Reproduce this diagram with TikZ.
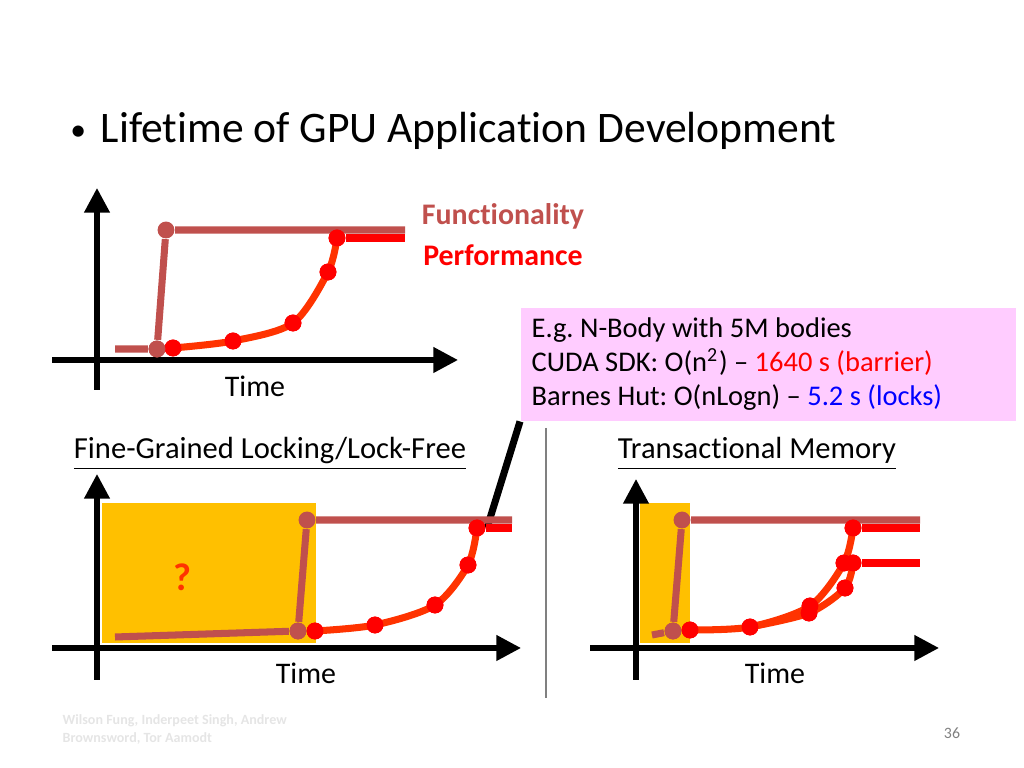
\documentclass[tikz,border=0pt]{standalone}
\usepackage{fontspec}
\setmainfont[RawFeature=-liga]{Carlito}
\usetikzlibrary{arrows.meta}
\definecolor{func}{HTML}{C0504D}
\definecolor{perf}{HTML}{FF3300}
\definecolor{gold}{HTML}{FFC000}
\definecolor{pinkbox}{HTML}{FFCCFF}
\frenchspacing
\begin{document}
\begin{tikzpicture}[
    x=0.01cm, y=-0.01cm,
    axis/.style={line width=1.5pt, -{Triangle[width=7pt,length=7pt]}},
    funcline/.style={line width=2pt, func},
    perfline/.style={line width=2pt, perf},
    redline/.style={line width=2pt, red},
    fdot/.style={circle, fill=func, inner sep=0pt, minimum size=4.8pt},
    pdot/.style={circle, fill=red, inner sep=0pt, minimum size=4.8pt},
    lbl/.style={font=\fontsize{8.5}{10}\selectfont},
    head/.style={font=\fontsize{8.7}{10}\selectfont, inner sep=0pt}
]
\useasboundingbox (0,0) rectangle (1024,768);

% Title
\node[anchor=base west, font=\fontsize{12.4}{15}\selectfont] (bullet) at (58,141) {\fontsize{9}{10}\selectfont\textbullet};
\node[anchor=base west, font=\fontsize{12.4}{15}\selectfont, inner sep=0pt] (title) at (100,143) {Lifetime of GPU Application Development};

% First graph
\coordinate (o1y) at (97,390);  \coordinate (e1y) at (97,188);
\coordinate (o1x) at (52,360);  \coordinate (e1x) at (458,360);
\draw[axis] (o1y) -- (e1y);
\draw[axis] (o1x) -- (e1x);
\node[fdot] (f1a) at (157,349) {};
\node[fdot] (f1b) at (166,230) {};
\coordinate (f1s) at (115,349); \coordinate (f1e) at (405,230);
\draw[funcline] (f1s) -- (f1a) -- (f1b) -- (f1e);
\node[pdot] (p1a) at (173,348) {};
\node[pdot] (p1b) at (233,341) {};
\node[pdot] (p1c) at (293,323) {};
\node[pdot] (p1d) at (328,272) {};
\node[pdot] (p1e) at (337,238) {};
\coordinate (p1f) at (405,238);
\draw[perfline] plot[smooth, tension=0.5] coordinates {(p1a) (p1b) (p1c) (p1d) (p1e)};
\draw[redline] (p1e) -- (p1f);
\foreach \n in {p1a,p1b,p1c,p1d,p1e} \node[pdot] at (\n) {};
\node[fdot] at (f1a) {};
\node[lbl] (time1) at (255,386) {Time};
\node[lbl, font=\fontsize{8.5}{10}\bfseries, text=func] (flab) at (503,216) {Functionality};
\node[lbl, font=\fontsize{8.5}{10}\bfseries, text=red] (plab) at (503,255) {Performance};

% Callout
\node[fill=pinkbox, anchor=north west, inner sep=0pt,
      minimum width=4.95cm, minimum height=1.13cm] (note) at (520,307) {};
\node[anchor=west, align=left, inner sep=0pt, font=\fontsize{8.1}{9.7}\selectfont] (notetext) at (531,364)
  {E.g. N-Body with 5M bodies\\
   CUDA SDK: O(n\textsuperscript{2}) -- \textcolor{red}{1640 s (barrier)}\\
   Barnes Hut: O(nLogn) -- \textcolor{blue}{5.2 s (locks)}};
\coordinate (tip) at (487,528);
\draw[line width=2pt] (note.south west) -- (tip);

% Separator
\coordinate (s1) at (546,428); \coordinate (s2) at (546,698);
\draw[gray, line width=0.6pt] (s1) -- (s2);

% Second graph
\node[head] (h2) at (270,454) {\underline{Fine-Grained Locking/Lock-Free}};
\fill[gold] (102,503) rectangle (316,643);
\node[font=\fontsize{11}{13}\bfseries\selectfont, text=perf] (q) at (182,577) {?};
\coordinate (o2y) at (97,680);  \coordinate (e2y) at (97,474);
\coordinate (o2x) at (52,648);  \coordinate (e2x) at (521,648);
\draw[axis] (o2y) -- (e2y);
\draw[axis] (o2x) -- (e2x);
\node[fdot] (f2a) at (298,631) {};
\node[fdot] (f2b) at (307,520) {};
\coordinate (f2s) at (115,637); \coordinate (f2e) at (512,520);
\draw[funcline] (f2s) -- (f2a) -- (f2b) -- (f2e);
\node[pdot] (p2a) at (315,631) {};
\node[pdot] (p2b) at (375,625) {};
\node[pdot] (p2c) at (435,605) {};
\node[pdot] (p2d) at (468,565) {};
\node[pdot] (p2e) at (477,528) {};
\coordinate (p2f) at (512,528);
\draw[perfline] plot[smooth, tension=0.5] coordinates {(p2a) (p2b) (p2c) (p2d) (p2e)};
\draw[redline] (p2e) -- (p2f);
\foreach \n in {p2a,p2b,p2c,p2d,p2e} \node[pdot] at (\n) {};
\node[fdot] at (f2a) {};
\node[lbl] (time2) at (306,673) {Time};

% Third graph
\node[head] (h3) at (757,454) {\underline{Transactional Memory}};
\fill[gold] (640,503) rectangle (690,643);
\coordinate (o3y) at (636,680);  \coordinate (e3y) at (636,479);
\coordinate (o3x) at (590,648);  \coordinate (e3x) at (939,648);
\draw[axis] (o3y) -- (e3y);
\draw[axis] (o3x) -- (e3x);
\node[fdot] (f3a) at (673,631) {};
\node[fdot] (f3b) at (682,520) {};
\coordinate (f3s) at (652,635); \coordinate (f3e) at (920,520);
\draw[funcline] (f3s) -- (f3a) -- (f3b) -- (f3e);
\node[pdot] (p3a) at (690,630) {};
\node[pdot] (p3b) at (750,627) {};
\node[pdot] (p3c) at (810,606) {};
\node[pdot] (p3d) at (844,563) {};
\node[pdot] (p3e) at (853,528) {};
\coordinate (p3f) at (920,528);
\node[pdot] (q3c) at (809,613) {};
\node[pdot] (q3d) at (845,588) {};
\node[pdot] (q3e) at (853,563) {};
\coordinate (q3f) at (920,563);
\draw[perfline] plot[smooth, tension=0.5] coordinates {(p3a) (p3b) (p3c) (p3d) (p3e)};
\draw[perfline] plot[smooth, tension=0.5] coordinates {(p3b) (q3c) (q3d) (q3e)};
\draw[redline] (p3e) -- (p3f);
\draw[redline] (q3e) -- (q3f);
\foreach \n in {p3a,p3b,p3c,p3d,p3e,q3c,q3d,q3e} \node[pdot] at (\n) {};
\node[fdot] at (f3a) {};
\node[lbl] (time3) at (775,673) {Time};

% Footer
\node[anchor=north west, align=left, text=black!10, inner sep=0pt,
      font=\fontsize{4}{5}\bfseries\selectfont] (authors) at (62,714)
  {Wilson Fung, Inderpeet Singh, Andrew\\Brownsword, Tor Aamodt};
\node[text=black!50, font=\fontsize{4.5}{5}\selectfont] (page) at (952,733) {36};
\end{tikzpicture}
\end{document}
